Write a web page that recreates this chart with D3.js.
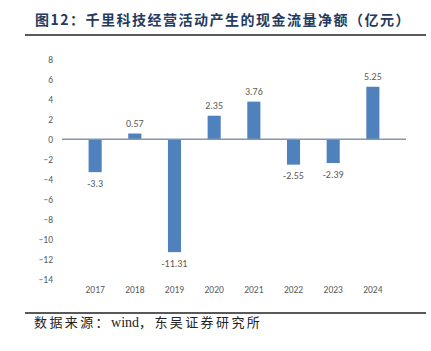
<!DOCTYPE html>
<html>
<head>
<meta charset="utf-8">
<script src="https://cdn.jsdelivr.net/npm/d3@7"></script>
<style>
  body { margin: 0; background: #fff; }
</style>
</head>
<body>
<div id="chart"></div>
<script>
// data
var years = ["2017", "2018", "2019", "2020", "2021", "2022", "2023", "2024"];
var cashFlow = [-3.3, 0.57, -11.31, 2.35, 3.76, -2.55, -2.39, 5.25];
var yTicks = [8, 6, 4, 2, 0, -2, -4, -6, -8, -10, -12, -14];

var W = 431, H = 351;
var cjk = "'Noto Sans CJK SC', 'Noto Sans', sans-serif";
var latin = "Calibri, Carlito, 'Liberation Sans', 'DejaVu Sans', sans-serif";

var svg = d3.select('#chart').append('svg')
    .attr("width", W)
    .attr("height", H);

// title + rule
svg.append("text")
    .attr("x", 35)
    .attr("y", 25)
    .attr("font-family", cjk)
    .attr("font-size", "14px")
    .attr("font-weight", "bold")
    .attr("letter-spacing", "1.5px")
    .attr("fill", "#243a60")
    .text("图12：千里科技经营活动产生的现金流量净额（亿元）");

svg.append("line")
    .attr("x1", 25).attr("x2", 426)
    .attr("y1", 35).attr("y2", 35)
    .attr("stroke", "#222").attr("stroke-width", 1.5);

// plot area
var left = 62, right = 406;

var x = d3.scaleBand()
    .domain(years)
    .range([left, right])
    .padding(0.67);

var y = d3.scaleLinear()
    .domain([-14, 8])
    .range([279, 59.3]);

// y tick labels (no axis line)
var yAxis = svg.append("g")
    .attr("transform", "translate(" + (left - 4) + ",0)")
    .call(d3.axisLeft(y).tickValues(yTicks).tickSize(0).tickPadding(5));
yAxis.select(".domain").remove();
yAxis.selectAll("text")
    .attr("font-family", latin)
    .attr("font-size", "9.5px")
    .attr("fill", "#595959");

// bars
svg.selectAll('rect.bar')
    .data(cashFlow)
    .enter().append("rect")
    .attr("class", "bar")
    .attr("x", function(d, i) { return x(years[i]); })
    .attr("y", function(d) { return y(Math.max(0, d)); })
    .attr("width", x.bandwidth())
    .attr("height", function(d) { return Math.abs(y(d) - y(0)); })
    .attr("fill", "#4f81bd");

// zero line
svg.append("line")
    .attr("x1", left).attr("x2", right)
    .attr("y1", y(0)).attr("y2", y(0))
    .attr("stroke", "#8497b0").attr("stroke-width", 1.5);

// value labels
svg.selectAll('text.val')
    .data(cashFlow)
    .enter().append("text")
    .attr("class", "val")
    .text(function(d) { return d; })
    .attr("x", function(d, i) { return x(years[i]) + x.bandwidth() / 2; })
    .attr("y", function(d) { return d >= 0 ? y(d) - 10 : y(d) + 11; })
    .attr("dy", ".35em")
    .attr("text-anchor", "middle")
    .attr("font-family", latin)
    .attr("font-size", "10px")
    .attr("fill", "#595959");

// x category labels
var xAxis = svg.append("g")
    .attr("transform", "translate(0,286)")
    .call(d3.axisBottom(x).tickSize(0).tickPadding(0));
xAxis.select(".domain").remove();
xAxis.selectAll("text")
    .attr("font-family", latin)
    .attr("font-size", "9.5px")
    .attr("fill", "#595959");

// footer
svg.append("line")
    .attr("x1", 25).attr("x2", 426)
    .attr("y1", 313).attr("y2", 313)
    .attr("stroke", "#222").attr("stroke-width", 1.5);

var foot = svg.append("text")
    .attr("x", 34)
    .attr("y", 327)
    .attr("font-family", cjk)
    .attr("font-size", "13px")
    .attr("fill", "#222");
foot.append("tspan").attr("letter-spacing", "2.4px").text("数据来源：");
foot.append("tspan").attr("font-family", "'Liberation Serif', serif").attr("font-size", "14px").text("wind");
foot.append("tspan").attr("letter-spacing", "2.4px").text("，东吴证券研究所");
</script>
</body>
</html>
